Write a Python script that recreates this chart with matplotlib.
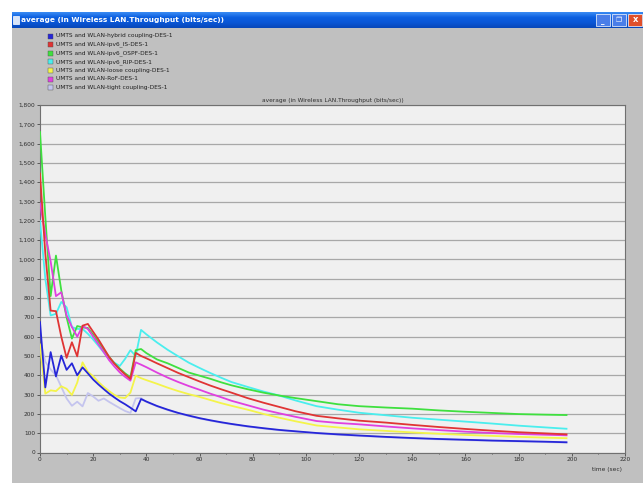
import numpy as np
import matplotlib
matplotlib.use("Agg")
import matplotlib.pyplot as plt
from matplotlib.patches import Rectangle

# time axis (sec) shared by every series
t = [0, 2, 4, 6, 8, 10, 12, 14, 16, 18, 20, 22, 24, 26, 28, 30, 32, 34, 36, 38, 40,
     44, 48, 52, 56, 60, 64, 68, 72, 78, 84, 90, 96, 104, 112, 120, 130, 140, 150, 160, 170, 180, 190, 198]

hybrid = [675, 337, 520, 394, 502, 428, 462, 400, 441, 410, 378, 352, 328, 305, 285, 266, 250, 232, 213, 277, 264,
          241, 222, 205, 191, 178, 167, 157, 148, 136, 126, 117, 110, 101, 94, 88, 81, 75, 70, 66, 62, 59, 56, 53]
ipv6_is = [1445, 1030, 735, 732, 600, 490, 571, 498, 657, 666, 625, 585, 540, 495, 460, 430, 405, 381, 516, 500, 488,
           462, 437, 412, 390, 368, 347, 328, 310, 282, 258, 236, 214, 190, 177, 165, 155, 143, 132, 122, 113, 105, 99, 94]
ipv6_ospf = [1660, 1220, 810, 1020, 840, 700, 590, 655, 648, 645, 610, 572, 532, 495, 462, 435, 410, 390, 530, 536, 515,
             482, 462, 438, 414, 398, 382, 364, 348, 328, 310, 295, 282, 266, 250, 240, 233, 227, 218, 211, 205, 199, 196, 194]
ipv6_rip = [1200, 900, 710, 718, 780, 752, 650, 640, 640, 615, 585, 552, 518, 485, 465, 448, 485, 530, 500, 635, 612,
            570, 532, 498, 465, 438, 412, 388, 365, 340, 316, 295, 270, 240, 222, 206, 193, 180, 170, 160, 150, 139, 130, 123]
loose = [560, 305, 322, 318, 343, 330, 298, 362, 467, 418, 395, 365, 340, 318, 298, 285, 282, 310, 398, 385, 375,
         356, 336, 318, 302, 288, 272, 256, 242, 222, 200, 180, 162, 140, 130, 120, 112, 104, 97, 91, 86, 81, 77, 74]
rof = [1290, 1130, 990, 810, 830, 710, 650, 600, 655, 640, 600, 560, 520, 478, 445, 415, 392, 372, 467, 455, 442,
       414, 388, 365, 344, 325, 305, 287, 268, 245, 222, 203, 185, 163, 153, 146, 135, 125, 116, 108, 101, 96, 92, 89]
tight = [590, 470, 430, 400, 340, 280, 242, 263, 239, 308, 290, 268, 280, 262, 246, 230, 215, 205, 280, 282, 262,
         239, 220, 203, 189, 176, 165, 155, 146, 134, 124, 115, 108, 99, 92, 86, 79, 73, 68, 64, 60, 57, 54, 51]

labels = ["UMTS and WLAN-hybrid coupling-DES-1",
          "UMTS and WLAN-ipv6_IS-DES-1",
          "UMTS and WLAN-ipv6_OSPF-DES-1",
          "UMTS and WLAN-ipv6_RIP-DES-1",
          "UMTS and WLAN-loose coupling-DES-1",
          "UMTS and WLAN-RoF-DES-1",
          "UMTS and WLAN-tight coupling-DES-1"]
colors = ["#2626d8", "#e03434", "#3fe03f", "#4aeeee", "#f4f44a", "#e040e0", "#c4c4ee"]
series = [hybrid, ipv6_is, ipv6_ospf, ipv6_rip, loose, rof, tight]
zorders = [9, 8, 5, 4, 3, 7, 2]

W, H = 643, 483
fig = plt.figure(figsize=(W / 100, H / 100), dpi=100)
fig.patch.set_facecolor("white")

def px(x0, y0, x1, y1):
    # pixel box -> figure fraction rect
    return [x0 / W, 1 - y1 / H, (x1 - x0) / W, (y1 - y0) / H]

# window body
body = fig.add_axes(px(12, 28, 643, 483))
body.set_facecolor("#c0c0c0")
body.set_xticks([]); body.set_yticks([])
for s in body.spines.values():
    s.set_visible(False)

# title bar with gradient
bar = fig.add_axes(px(12, 12, 643, 28))
grad = np.linspace(0, 1, 50).reshape(-1, 1)
bar.imshow(grad, aspect="auto", cmap=matplotlib.colors.LinearSegmentedColormap.from_list(
    "xp", ["#3a8cf4", "#0b5fe0", "#0a56d6", "#0847b8"]), extent=[0, 1, 0, 1])
bar.set_xlim(0, 1); bar.set_ylim(0, 1)
bar.axis("off")
bar.text(0.014, 0.5, "average (in Wireless LAN.Throughput (bits/sec))", color="white",
         fontsize=5.3, fontweight="bold", va="center", ha="left")
bar.add_patch(Rectangle((0.002, 0.25), 0.009, 0.5, facecolor="#d8e4f8", edgecolor="white", lw=0.5))
bar.add_patch(Rectangle((0.925, 0.1), 0.022, 0.8, facecolor="#4a7ee8", edgecolor="white", lw=0.5))
bar.add_patch(Rectangle((0.951, 0.1), 0.022, 0.8, facecolor="#4a7ee8", edgecolor="white", lw=0.5))
bar.add_patch(Rectangle((0.977, 0.1), 0.022, 0.8, facecolor="#e0502a", edgecolor="white", lw=0.5))
bar.text(0.936, 0.35, "_", color="white", fontsize=5, ha="center", va="center", fontweight="bold")
bar.text(0.962, 0.5, "❐", color="white", fontsize=5, ha="center", va="center")
bar.text(0.988, 0.5, "x", color="white", fontsize=6, ha="center", va="center", fontweight="bold")

# legend block
for i, (lab, c) in enumerate(zip(labels, colors)):
    y = 36 + i * 8.6
    fig.patches.append(Rectangle((48 / W, 1 - (y + 2.5) / H), 5 / W, 5 / H, facecolor=c,
                                 edgecolor="#505050", lw=0.3, transform=fig.transFigure))
    fig.text(56 / W, 1 - y / H, lab, fontsize=4.2, color="#202020", va="center", ha="left")

# chart
ax = fig.add_axes(px(40, 105, 625, 452.5))
ax.set_facecolor("#f0f0f0")
for s, c, z, lab in zip(series, colors, zorders, labels):
    ax.plot(t, s, color=c, lw=1.3, zorder=z, label=lab)

ax.set_xlim(0, 220)
ax.set_ylim(0, 1800)
ax.set_xticks(range(0, 221, 20))
ax.set_yticks(range(0, 1801, 100))
ax.set_yticklabels([f"{v:,}" for v in range(0, 1801, 100)])
ax.set_xticks(range(0, 221, 10), minor=True)
ax.yaxis.grid(True, color="#a8a8a8", lw=0.9)
ax.set_axisbelow(True)
ax.tick_params(labelsize=4.2, colors="#303030", length=2, width=0.5, pad=1.5)
ax.tick_params(which="minor", length=1, width=0.4)
for s in ax.spines.values():
    s.set_color("#707070")
    s.set_linewidth(0.8)
ax.set_title("average (in Wireless LAN.Throughput (bits/sec))", fontsize=4.2, color="#303030", pad=2)
fig.text(622 / W, 1 - 470 / H, "time (sec)", fontsize=4.2, color="#303030", ha="right", va="center")

fig.savefig("out.png", dpi=100)
